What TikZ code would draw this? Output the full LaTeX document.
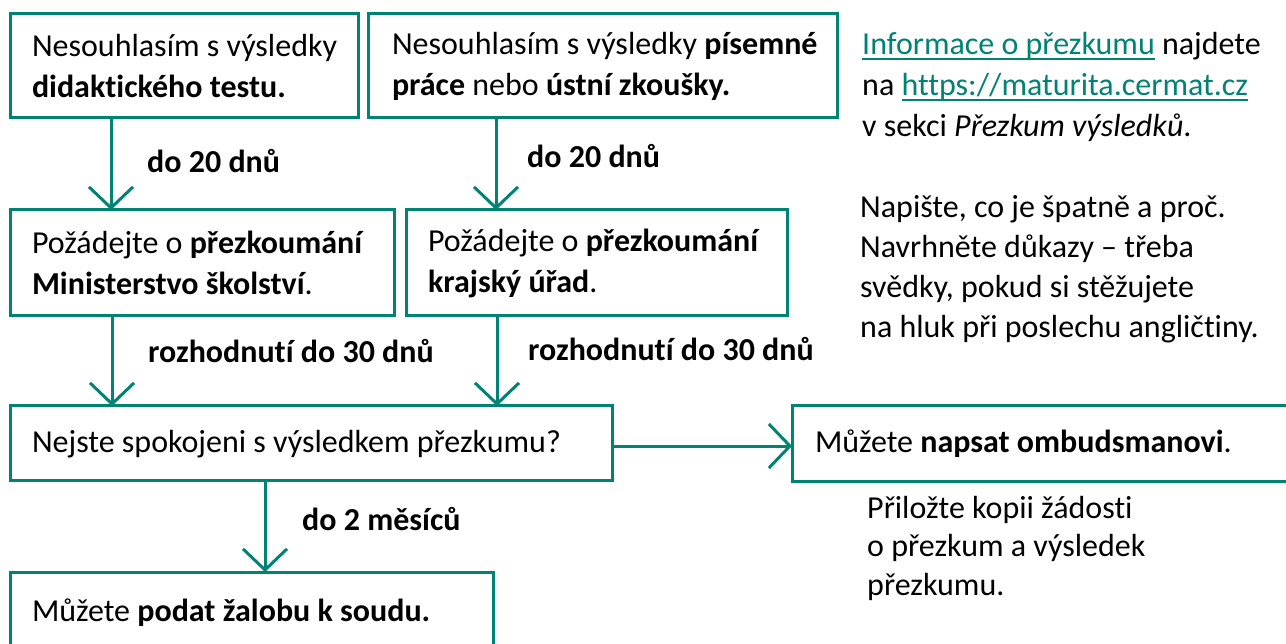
\documentclass[tikz,border=0pt]{standalone}
\usepackage{fontspec}
\setmainfont{Carlito}[Ligatures={NoCommon}]
\usetikzlibrary{arrows.meta}
\definecolor{tealc}{RGB}{0,131,115}
\newcommand\myul[1]{\setbox0\hbox{#1}\rlap{\rule[-5pt]{\wd0}{2pt}}\box0}
\newcommand\natsp{\spaceskip=0pt\xspaceskip=0pt\relax}
\begin{document}
\begin{tikzpicture}[x=1pt,y=-1pt,
  font=\fontsize{32}{41}\selectfont,
  box/.style={draw=tealc, line width=3pt, inner xsep=22pt, inner ysep=0pt, outer sep=0pt, align=left, anchor=north west},
  arr/.style={draw=tealc, line width=3pt, -{Straight Barb[length=21pt,width=44pt]}},
  lbl/.style={anchor=base west, inner sep=0pt, font=\fontsize{32}{41}\selectfont\bfseries},
  txt/.style={anchor=base west, inner sep=0pt, align=left}]
\useasboundingbox (0,0) rectangle (1286,644);
\clip (0,0) rectangle (1286,644);
\fill[white] (0,0) rectangle (1286,644);

\node[box, text width=304pt, minimum height=104pt] (b1) at (10,14)
  {\natsp\mbox{Nesouhlasím s výsledky}\\\mbox{\textbf{didaktického testu.}}};
\node[box, inner xsep=24pt, text width=421pt, minimum height=104pt] (b2) at (368,14)
  {\natsp\mbox{Nesouhlasím s výsledky \textbf{písemné}}\\\mbox{\textbf{práce} nebo \textbf{ústní zkoušky.}}};
\node[box, text width=340pt, minimum height=106pt] (b3) at (10,210)
  {\natsp\mbox{Požádejte o \textbf{přezkoumání}}\\\mbox{\textbf{Ministerstvo školství}.}};
\node[box, text width=337pt, minimum height=106pt] (b4) at (406,210)
  {\natsp\mbox{Požádejte o \textbf{přezkoumání}}\\\mbox{\textbf{krajský úřad}.}};
\node[box, text width=558pt, minimum height=74pt, text height=24pt, text depth=4pt] (b5) at (10,406)
  {\natsp\mbox{Nejste spokojeni s výsledkem přezkumu?}};
\node[box, inner xsep=23pt, text width=474pt, minimum height=75pt, text height=23pt, text depth=5pt] (b6) at (792,406)
  {\natsp\mbox{Můžete \textbf{napsat ombudsmanovi}.}};
\node[box, text width=439pt, minimum height=80pt, text height=23pt, text depth=5pt] (b7) at (10,572)
  {\natsp\mbox{Můžete \textbf{podat žalobu k soudu.}}};

\draw[arr] ([xshift=101pt]b1.south west) -- ([xshift=101pt]b3.north west);
\draw[arr] ([xshift=128pt]b2.south west) -- ([xshift=90pt]b4.north west);
\draw[arr] ([xshift=102pt]b3.south west) -- ([xshift=102pt]b5.north west);
\draw[arr] ([xshift=91pt]b4.south west) -- ([xshift=487pt]b5.north west);
\draw[arr] ([xshift=255pt]b5.south west) -- ([xshift=255pt]b7.north west);
\draw[arr] ([yshift=-3pt]b5.east) -- ([yshift=-3pt]b5.east -| b6.west);

\node[lbl] (l1) at (147,173) {do 20 dnů};
\node[lbl] (l2) at (527,168) {do 20 dnů};
\node[lbl] (l3) at (148,363) {rozhodnutí do 30 dnů};
\node[lbl] (l4) at (528,361) {rozhodnutí do 30 dnů};
\node[lbl] (l5) at (302,530) {do 2 měsíců};

\node[txt, font=\fontsize{32}{41}\selectfont] (info) at (862,137)
  {\natsp\textcolor{tealc}{\myul{Informace o přezkumu}} najdete\\
   na \textcolor{tealc}{\myul{https://maturita.cermat.cz}}\\
   v sekci \textit{Přezkum výsledků}.};
\node[txt, font=\fontsize{32}{40.3}\selectfont] (tip) at (860,338)
  {\natsp Napište, co je špatně a proč.\\
   Navrhněte důkazy – třeba\\
   svědky, pokud si stěžujete\\
   na hluk při poslechu angličtiny.};
\node[txt, font=\fontsize{32}{38.5}\selectfont] (note) at (867,595)
  {\natsp Přiložte kopii žádosti\\
   o přezkum a výsledek\\
   přezkumu.};
\end{tikzpicture}
\end{document}
